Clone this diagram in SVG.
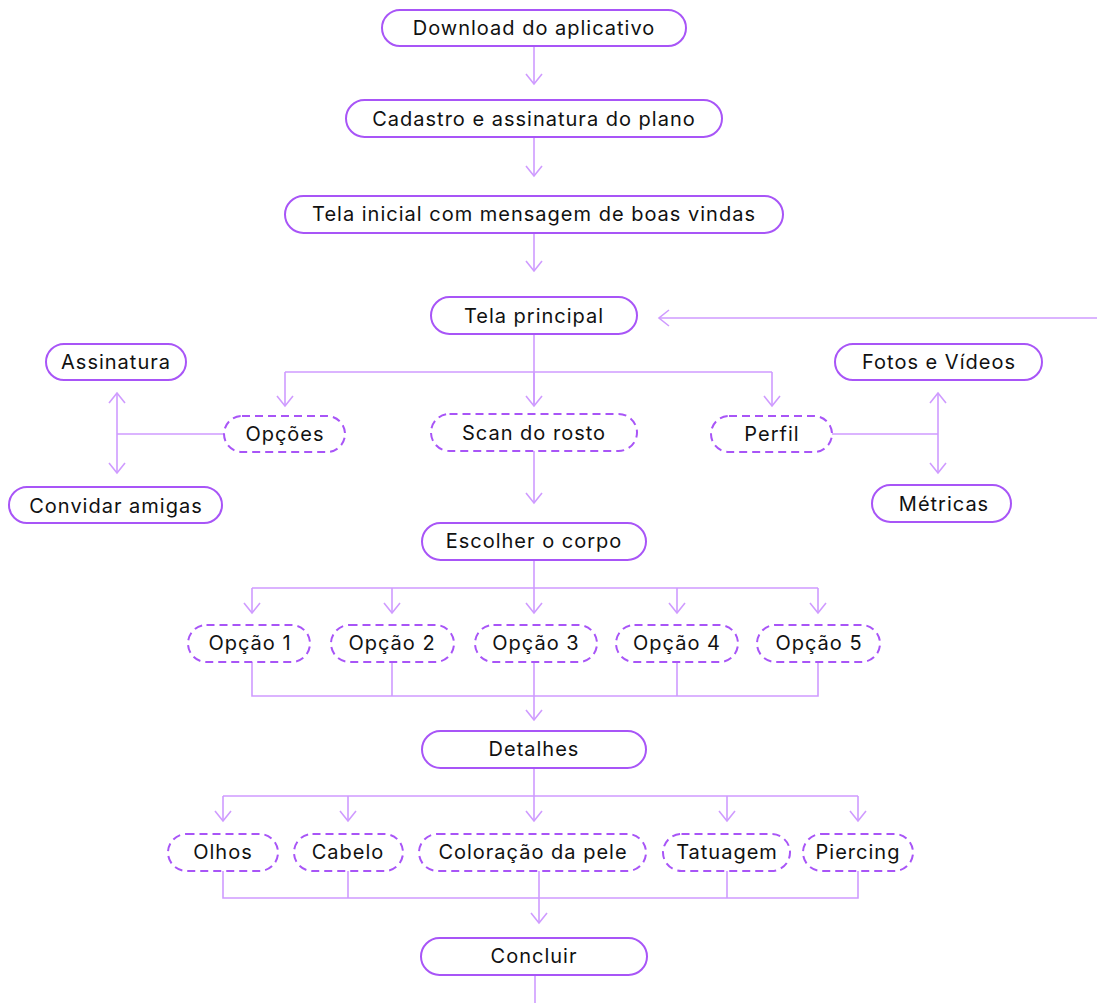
<svg xmlns="http://www.w3.org/2000/svg" width="1097" height="1003" viewBox="0 0 1097 1003">
<style>
.n{fill:#fff;stroke:#a855f7;stroke-width:2}
.d{fill:#fff;stroke:#a855f7;stroke-width:2;stroke-dasharray:8 5}
.t{font-family:Inter,"Liberation Sans",sans-serif;font-size:20px;letter-spacing:1px;fill:#111;text-anchor:middle}
.c{fill:none;stroke:#cf9bff;stroke-width:1.6}
</style>
<defs>
<marker id="a" markerUnits="userSpaceOnUse" markerWidth="24" markerHeight="24" refX="0" refY="0" viewBox="-12 -12 24 24" orient="auto-start-reverse" overflow="visible">
<path d="M-10,-8 L0,0 L-10,8" fill="none" stroke="#cf9bff" stroke-width="1.6"/>
</marker>
</defs>
<rect width="1097" height="1003" fill="#fff"/>
<g id="connectors">
<path class="c" d="M534,46 V84" marker-end="url(#a)"/>
<path class="c" d="M534,137 V176" marker-end="url(#a)"/>
<path class="c" d="M534,233 V271" marker-end="url(#a)"/>
<path class="c" d="M1097,318 H659" marker-end="url(#a)"/>
<path class="c" d="M534,334 V406"/>
<path class="c" d="M285,372 H772"/>
<path class="c" d="M285,372 V406" marker-end="url(#a)"/>
<path class="c" d="M534,372 V406" marker-end="url(#a)"/>
<path class="c" d="M772,372 V406" marker-end="url(#a)"/>
<path class="c" d="M224,434 H117"/>
<path class="c" d="M117,393 V473" marker-start="url(#a)" marker-end="url(#a)"/>
<path class="c" d="M832,434 H938"/>
<path class="c" d="M938,393 V473" marker-start="url(#a)" marker-end="url(#a)"/>
<path class="c" d="M534,451 V503" marker-end="url(#a)"/>
<path class="c" d="M534,560 V588 M252,588 H818"/>
<path class="c" d="M252,588 V613" marker-end="url(#a)"/>
<path class="c" d="M392,588 V613" marker-end="url(#a)"/>
<path class="c" d="M534,588 V613" marker-end="url(#a)"/>
<path class="c" d="M677,588 V613" marker-end="url(#a)"/>
<path class="c" d="M818,588 V613" marker-end="url(#a)"/>
<path class="c" d="M252,662 V696 H818 V662 M392,662 V696 M534,662 V696 M677,662 V696"/>
<path class="c" d="M534,696 V720" marker-end="url(#a)"/>
<path class="c" d="M534,768 V796 M223,796 H858"/>
<path class="c" d="M223,796 V821" marker-end="url(#a)"/>
<path class="c" d="M348,796 V821" marker-end="url(#a)"/>
<path class="c" d="M534,796 V821" marker-end="url(#a)"/>
<path class="c" d="M727,796 V821" marker-end="url(#a)"/>
<path class="c" d="M858,796 V821" marker-end="url(#a)"/>
<path class="c" d="M223,871 V898 H858 V871 M348,871 V898 M727,871 V898"/>
<path class="c" d="M539,871 V923" marker-end="url(#a)"/>
<path class="c" d="M535,975 V1003"/>
</g>
<g id="n-download"><rect class="n" x="382" y="10" width="304" height="36" rx="18"/><text class="t" x="534" y="35">Download do aplicativo</text></g>
<g id="n-cadastro"><rect class="n" x="346" y="100" width="376" height="37" rx="18.5"/><text class="t" x="534" y="126">Cadastro e assinatura do plano</text></g>
<g id="n-tela-inicial"><rect class="n" x="285" y="196" width="498" height="37" rx="18.5"/><text class="t" x="534" y="221">Tela inicial com mensagem de boas vindas</text></g>
<g id="n-tela-principal"><rect class="n" x="431" y="297" width="206" height="37" rx="18.5"/><text class="t" x="534" y="323">Tela principal</text></g>
<g id="n-assinatura"><rect class="n" x="46" y="344" width="140" height="36" rx="18"/><text class="t" x="116" y="369">Assinatura</text></g>
<g id="n-convidar"><rect class="n" x="9" y="487" width="213" height="36" rx="18"/><text class="t" x="116" y="513">Convidar amigas</text></g>
<g id="n-opcoes"><rect class="d" x="224" y="416" width="121" height="36" rx="18"/><text class="t" x="285" y="441">Opções</text></g>
<g id="n-scan"><rect class="d" x="431" y="414" width="206" height="37" rx="18.5"/><text class="t" x="534" y="440">Scan do rosto</text></g>
<g id="n-perfil"><rect class="d" x="711" y="416" width="121" height="36" rx="18"/><text class="t" x="772" y="441">Perfil</text></g>
<g id="n-fotos"><rect class="n" x="835" y="344" width="207" height="36" rx="18"/><text class="t" x="939" y="369">Fotos e Vídeos</text></g>
<g id="n-metricas"><rect class="n" x="872" y="485" width="139" height="37" rx="18.5"/><text class="t" x="944" y="511">Métricas</text></g>
<g id="n-escolher"><rect class="n" x="422" y="523" width="224" height="37" rx="18.5"/><text class="t" x="534" y="548">Escolher o corpo</text></g>
<g id="n-op1"><rect class="d" x="188" y="625" width="122" height="37" rx="18.5"/><text class="t" x="250" y="650">Opção 1</text></g>
<g id="n-op2"><rect class="d" x="331" y="625" width="123" height="37" rx="18.5"/><text class="t" x="392" y="650">Opção 2</text></g>
<g id="n-op3"><rect class="d" x="475" y="625" width="122" height="37" rx="18.5"/><text class="t" x="536" y="650">Opção 3</text></g>
<g id="n-op4"><rect class="d" x="616" y="625" width="122" height="37" rx="18.5"/><text class="t" x="677" y="650">Opção 4</text></g>
<g id="n-op5"><rect class="d" x="757" y="625" width="123" height="37" rx="18.5"/><text class="t" x="819" y="650">Opção 5</text></g>
<g id="n-detalhes"><rect class="n" x="422" y="731" width="224" height="37" rx="18.5"/><text class="t" x="534" y="756">Detalhes</text></g>
<g id="n-olhos"><rect class="d" x="168" y="834" width="110" height="37" rx="18.5"/><text class="t" x="223" y="859">Olhos</text></g>
<g id="n-cabelo"><rect class="d" x="294" y="834" width="109" height="37" rx="18.5"/><text class="t" x="348" y="859">Cabelo</text></g>
<g id="n-coloracao"><rect class="d" x="419" y="834" width="227" height="37" rx="18.5"/><text class="t" x="533" y="859">Coloração da pele</text></g>
<g id="n-tatuagem"><rect class="d" x="663" y="834" width="127" height="37" rx="18.5"/><text class="t" x="727" y="859">Tatuagem</text></g>
<g id="n-piercing"><rect class="d" x="803" y="834" width="110" height="37" rx="18.5"/><text class="t" x="858" y="859">Piercing</text></g>
<g id="n-concluir"><rect class="n" x="421" y="938" width="226" height="37" rx="18.5"/><text class="t" x="534" y="963">Concluir</text></g>
</svg>
